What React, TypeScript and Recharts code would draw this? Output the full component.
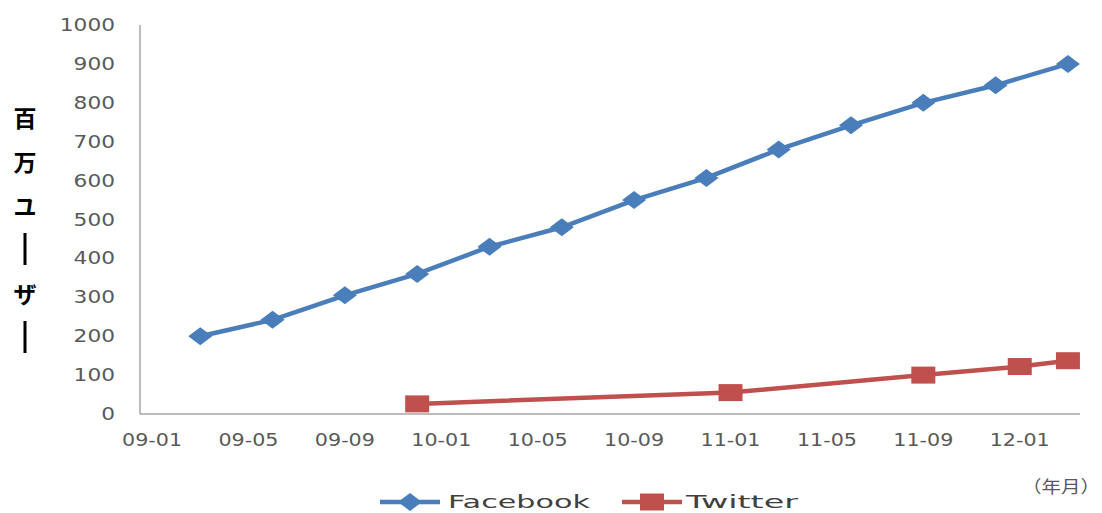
import { LineChart, Line, XAxis, YAxis } from 'recharts';

// months counted from 2009-01 (0 = 09-01)
const xTickMonths = [0, 4, 8, 12, 16, 20, 24, 28, 32, 36];
const xTickLabels = ['09-01', '09-05', '09-09', '10-01', '10-05', '10-09', '11-01', '11-05', '11-09', '12-01'];
const yTicks = [0, 100, 200, 300, 400, 500, 600, 700, 800, 900, 1000];

const facebookMonths = [2, 5, 8, 11, 14, 17, 20, 23, 26, 29, 32, 35, 38];
const facebookUsers = [200, 242, 305, 360, 430, 480, 550, 607, 680, 742, 800, 845, 900];

const twitterMonths = [11, 24, 32, 36, 38];
const twitterUsers = [26, 55, 100, 122, 137];

const yTitle = '百万ユーザー';

const FB_COLOR = '#4a7ebb';
const TW_COLOR = '#c0504d';
const TICK_COLOR = '#595959';
const FONT = '"DejaVu Sans", sans-serif';

const facebookData = facebookMonths.map((m, i) => ({ month: m, users: facebookUsers[i] }));
const twitterData = twitterMonths.map((m, i) => ({ month: m, users: twitterUsers[i] }));

const XTick = (props: any) => {
  const { x, y, payload } = props;
  const idx = xTickMonths.indexOf(payload.value);
  return (
    <text
      x={x}
      y={y}
      dy="0.71em"
      textAnchor="middle"
      fill={TICK_COLOR}
      fontSize={17}
      fontFamily={FONT}
      textLength={60}
      lengthAdjust="spacingAndGlyphs"
    >
      {idx >= 0 ? xTickLabels[idx] : ''}
    </text>
  );
};

const YTick = (props: any) => {
  const { x, y, payload } = props;
  const label = String(payload.value);
  return (
    <text
      x={x}
      y={y}
      dy="0.355em"
      textAnchor="end"
      fill={TICK_COLOR}
      fontSize={17}
      fontFamily={FONT}
      textLength={label.length * 13.8}
      lengthAdjust="spacingAndGlyphs"
    >
      {label}
    </text>
  );
};

const Diamond = (props: any) => {
  const { cx, cy, fill } = props;
  if (cx == null || cy == null) return <g key={props.key} />;
  return (
    <polygon
      key={props.key}
      points={`${cx - 12},${cy} ${cx},${cy - 9} ${cx + 12},${cy} ${cx},${cy + 9}`}
      fill={fill || FB_COLOR}
    />
  );
};

const Square = (props: any) => {
  const { cx, cy, fill } = props;
  if (cx == null || cy == null) return <g key={props.key} />;
  return <rect key={props.key} x={cx - 12} y={cy - 8.5} width={24} height={17} fill={fill || TW_COLOR} />;
};

export default function App() {
  const titleChars = yTitle.split('');
  return (
    <div style={{ position: 'absolute', left: 0, top: 0, width: 1102, height: 513, background: '#fff' }}>
      <LineChart width={1102} height={513} margin={{ top: 25, right: 22, left: 0, bottom: 59 }}>
        <XAxis
          type="number"
          dataKey="month"
          domain={[-0.5, 38.5]}
          ticks={xTickMonths}
          tick={XTick}
          tickLine={false}
          tickSize={0}
          tickMargin={20}
          height={40}
          stroke="#a6a6a6"
          strokeWidth={1.5}
          allowDataOverflow
        />
        <YAxis
          type="number"
          domain={[0, 1000]}
          ticks={yTicks}
          tick={YTick}
          tickLine={false}
          tickSize={0}
          tickMargin={25}
          width={140}
          stroke="#a6a6a6"
          strokeWidth={1.5}
        />
        <Line
          data={facebookData}
          dataKey="users"
          stroke={FB_COLOR}
          strokeWidth={4.5}
          dot={(p: any) => <Diamond {...p} fill={FB_COLOR} />}
          activeDot={false}
          isAnimationActive={false}
        />
        <Line
          data={twitterData}
          dataKey="users"
          stroke={TW_COLOR}
          strokeWidth={4.5}
          dot={(p: any) => <Square {...p} fill={TW_COLOR} />}
          activeDot={false}
          isAnimationActive={false}
        />
      </LineChart>

      <svg width={1102} height={513} style={{ position: 'absolute', left: 0, top: 0, pointerEvents: 'none' }}>
        {/* vertical axis title */}
        {titleChars.map((ch, i) => {
          const cy = 117 + i * 44;
          if (ch === 'ー') {
            return (
              <rect key={i} x={23.5} y={cy - 16} width={3} height={32} fill="#000" />
            );
          }
          return (
            <text
              key={i}
              x={25}
              y={cy}
              textAnchor="middle"
              dominantBaseline="central"
              fontSize={23}
              fontWeight="bold"
              fontFamily='"Noto Sans CJK JP", sans-serif'
              fill="#000"
            >
              {ch}
            </text>
          );
        })}

        {/* unit note */}
        <text
          x={1022}
          y={485}
          dominantBaseline="central"
          fontSize={17}
          fontFamily='"Noto Sans CJK JP", sans-serif'
          fill={TICK_COLOR}
          textLength={78}
          lengthAdjust="spacingAndGlyphs"
        >
          （年月）
        </text>

        {/* legend */}
        <line x1={380} y1={502} x2={440} y2={502} stroke={FB_COLOR} strokeWidth={4.5} />
        <Diamond cx={410} cy={502} fill={FB_COLOR} />
        <text
          x={448}
          y={508}
          fontSize={18}
          fontFamily={FONT}
          fill="#404040"
          textLength={142}
          lengthAdjust="spacingAndGlyphs"
        >
          Facebook
        </text>
        <line x1={622} y1={502} x2={682} y2={502} stroke={TW_COLOR} strokeWidth={4.5} />
        <Square cx={652} cy={502} fill={TW_COLOR} />
        <text
          x={686}
          y={508}
          fontSize={18}
          fontFamily={FONT}
          fill="#404040"
          textLength={112}
          lengthAdjust="spacingAndGlyphs"
        >
          Twitter
        </text>
      </svg>
    </div>
  );
}
